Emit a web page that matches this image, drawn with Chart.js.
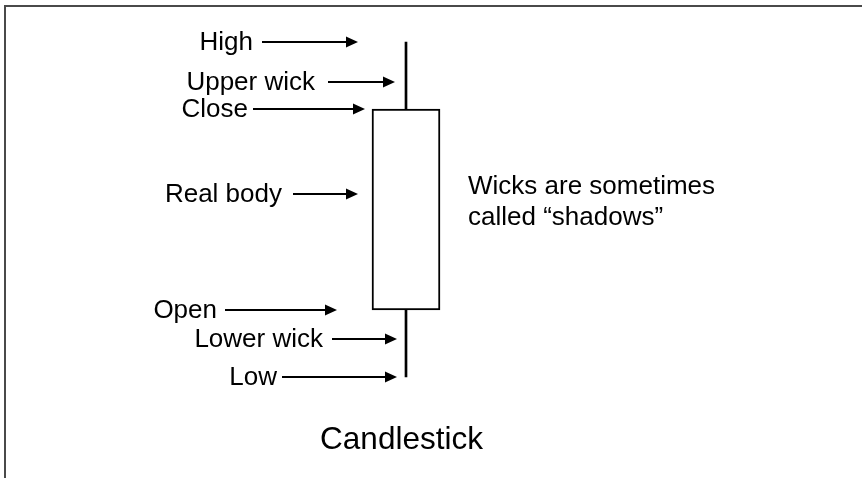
<!DOCTYPE html>
<html><head><meta charset="utf-8">
<script src="https://cdn.jsdelivr.net/npm/chart.js@4.4.0/dist/chart.umd.min.js"></script>
<style>html,body{margin:0;padding:0;background:#fff;}#wrap{width:862px;height:478px;position:relative;}</style>
</head><body><div id="wrap"><canvas id="c" width="862" height="478"></canvas></div>
<script>
// ---- data ----
const categories = ['Candlestick'];
const openValues = [38];
const highValues = [50];
const lowValues = [35];
const closeValues = [47];
const partLabels = ['High', 'Upper wick', 'Close', 'Real body', 'Open', 'Lower wick', 'Low'];
const partValues = [50, 48.2, 47, 43.2, 38, 36.7, 35];
const noteLines = ['Wicks are sometimes', 'called \u201cshadows\u201d'];
const yRange = [33.5, 51.5];

// ---- layout / style (offsets from candle centre, px) ----
const arrowLayout = [
  {start: -144, tip: -48, gap: 9},
  {start: -78, tip: -11, gap: 13},
  {start: -153, tip: -41, gap: 5},
  {start: -113, tip: -48, gap: 11},
  {start: -181, tip: -69, gap: 8},
  {start: -74, tip: -9, gap: 9},
  {start: -124, tip: -9, gap: 5}
];
const FONT = '"Liberation Sans", Arial, Helvetica, sans-serif';

const annot = {
  id: 'annot',
  beforeDraw(chart) {
    const c = chart.ctx;
    c.save();
    c.fillStyle = '#fff';
    c.fillRect(0, 0, chart.width, chart.height);
    c.fillStyle = '#4a4a4a';
    c.fillRect(4, 5, chart.width - 4, 2);
    c.fillRect(4, 5, 2, chart.height - 5);
    c.restore();
  },
  afterDatasetsDraw(chart) {
    const xs = chart.scales.x, ys = chart.scales.y, c = chart.ctx;
    const cx = xs.getPixelForValue(0);
    c.save();
    c.fillStyle = '#000';
    c.strokeStyle = '#000';
    c.lineWidth = 2;
    c.font = '26px ' + FONT;
    c.textAlign = 'right';
    c.textBaseline = 'alphabetic';
    partLabels.forEach((t, i) => {
      const py = Math.round(ys.getPixelForValue(partValues[i]));
      const a = arrowLayout[i];
      const x0 = cx + a.start, x1 = cx + a.tip;
      c.beginPath(); c.moveTo(x0, py); c.lineTo(x1 - 10, py); c.stroke();
      c.beginPath(); c.moveTo(x1, py); c.lineTo(x1 - 12, py - 5.5); c.lineTo(x1 - 12, py + 5.5); c.closePath(); c.fill();
      c.fillText(t, x0 - a.gap, py + 8);
    });
    // note, vertically centred on the real body
    const mid = ys.getPixelForValue((openValues[0] + closeValues[0]) / 2);
    c.textAlign = 'left';
    c.fillText(noteLines[0], cx + 62, mid - 15.5);
    c.fillText(noteLines[1], cx + 62, mid + 15.5);
    c.restore();
  }
};

new Chart(document.getElementById('c'), {
  type: 'bar',
  data: {
    labels: categories,
    datasets: [
      {
        label: 'Real body',
        data: categories.map((_, i) => [openValues[i], closeValues[i]]),
        backgroundColor: '#ffffff',
        borderColor: '#000000',
        borderWidth: 2,
        borderSkipped: false,
        barThickness: 68,
        grouped: false,
        order: 0
      },
      {
        label: 'Wick',
        data: categories.map((_, i) => [lowValues[i], highValues[i]]),
        backgroundColor: '#000000',
        borderWidth: 0,
        barThickness: 2,
        grouped: false,
        order: 1
      }
    ]
  },
  options: {
    responsive: false,
    devicePixelRatio: 1,
    animation: false,
    layout: {padding: {top: 8.5, bottom: 17.5, left: 0, right: 50}},
    plugins: {legend: {display: false}, tooltip: {enabled: false}, title: {display: false}},
    scales: {
      x: {
        type: 'category',
        offset: true,
        grid: {display: false, drawTicks: false},
        border: {display: false},
        ticks: {
          color: '#000',
          font: {family: FONT, size: 31.5},
          padding: 11,
          labelOffset: -4.5,
          maxRotation: 0
        },
        afterFit: s => { s.height = 50; }
      },
      y: {display: false, min: yRange[0], max: yRange[1]}
    }
  },
  plugins: [annot]
});
</script>
</body></html>
